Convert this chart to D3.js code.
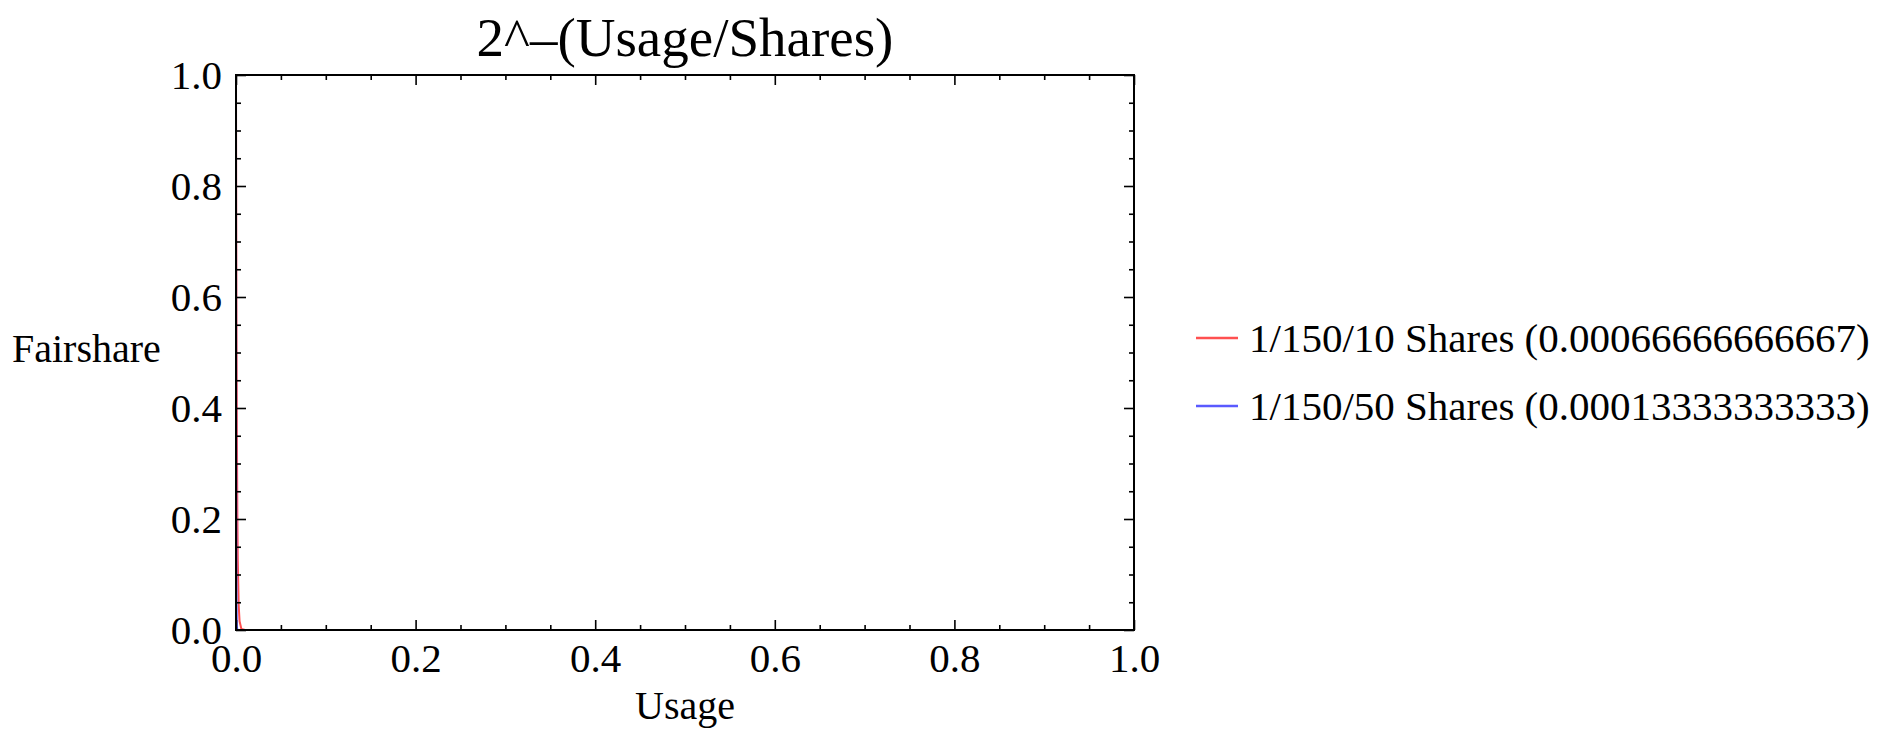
<!DOCTYPE html>
<html>
<head>
<meta charset="utf-8">
<script src="https://cdn.jsdelivr.net/npm/d3@7"></script>
<style>
  html, body { margin: 0; padding: 0; background: #fff; }
  svg text { font-family: "Liberation Serif", "Times New Roman", serif; fill: #000; }
</style>
</head>
<body>
<svg id="chart" width="1899" height="730"></svg>
<script>
// ---- data ----
const titleText = "2^\u2013(Usage/Shares)";
const xLabel = "Usage";
const yLabel = "Fairshare";
const usage = [0, 0.0001, 0.0002, 0.0004, 0.0006, 0.001, 0.0015, 0.002, 0.003, 0.004, 0.006, 0.01, 0.1, 0.5, 1];
const fairshare10 = [1, 0.901, 0.812, 0.660, 0.536, 0.354, 0.210, 0.125, 0.044, 0.0156, 0.002, 0, 0, 0, 0];
const fairshare50 = [1, 0.595, 0.354, 0.125, 0.044, 0.0055, 0.0004, 0, 0, 0, 0, 0, 0, 0, 0];
const seriesNames = ["1/150/10 Shares (0.00066666666667)", "1/150/50 Shares (0.00013333333333)"];
const seriesColors = ["#ff5050", "#5a5aff"];
const majorTicks = [0, 0.2, 0.4, 0.6, 0.8, 1.0];
const minorTicks = [0.05, 0.1, 0.15, 0.25, 0.3, 0.35, 0.45, 0.5, 0.55, 0.65, 0.7, 0.75, 0.85, 0.9, 0.95];

// ---- layout ----
const svg = d3.select("#chart");
const L = 236, R = 1134, T = 75, B = 630;
const x = d3.scaleLinear().domain([0, 1]).range([L, R]);
const y = d3.scaleLinear().domain([0, 1]).range([B, T]);
const fmt = d3.format(".1f");

// clip
svg.append("defs").append("clipPath").attr("id", "clip")
  .append("rect").attr("x", L).attr("y", T).attr("width", R - L).attr("height", B - T);

// curves
const series = [fairshare10, fairshare50];
const line = d3.line().x(d => x(d[0])).y(d => y(d[1]));
series.forEach((vals, i) => {
  svg.append("path")
    .datum(usage.map((u, j) => [u, vals[j]]))
    .attr("clip-path", "url(#clip)")
    .attr("fill", "none")
    .attr("stroke", seriesColors[i])
    .attr("stroke-width", 2)
    .attr("d", line);
});

// axes (ticks inward on all four sides)
function styleAxis(g) {
  g.select(".domain").remove();
  g.selectAll(".tick line").attr("stroke", "#000").attr("stroke-width", 1.6);
  g.selectAll(".tick text").style("font-size", "41px").attr("fill", "#000");
}
svg.append("g").attr("transform", `translate(0,${B})`)
  .call(d3.axisBottom(x).tickValues(majorTicks).tickSize(-10).tickPadding(13).tickFormat(fmt)).call(styleAxis);
svg.append("g").attr("transform", `translate(0,${B})`)
  .call(d3.axisBottom(x).tickValues(minorTicks).tickSize(-5).tickFormat("")).call(styleAxis);
svg.append("g").attr("transform", `translate(0,${T})`)
  .call(d3.axisTop(x).tickValues(majorTicks).tickSize(-10).tickFormat("")).call(styleAxis);
svg.append("g").attr("transform", `translate(0,${T})`)
  .call(d3.axisTop(x).tickValues(minorTicks).tickSize(-5).tickFormat("")).call(styleAxis);
svg.append("g").attr("transform", `translate(${L},0)`)
  .call(d3.axisLeft(y).tickValues(majorTicks).tickSize(-10).tickPadding(14).tickFormat(fmt)).call(styleAxis);
svg.append("g").attr("transform", `translate(${L},0)`)
  .call(d3.axisLeft(y).tickValues(minorTicks).tickSize(-5).tickFormat("")).call(styleAxis);
svg.append("g").attr("transform", `translate(${R},0)`)
  .call(d3.axisRight(y).tickValues(majorTicks).tickSize(-10).tickFormat("")).call(styleAxis);
svg.append("g").attr("transform", `translate(${R},0)`)
  .call(d3.axisRight(y).tickValues(minorTicks).tickSize(-5).tickFormat("")).call(styleAxis);

// frame
svg.append("rect").attr("x", L).attr("y", T).attr("width", R - L).attr("height", B - T)
  .attr("fill", "none").attr("stroke", "#000").attr("stroke-width", 2);

// title & labels
svg.append("text").attr("x", (L + R) / 2).attr("y", 56).attr("text-anchor", "middle")
  .style("font-size", "55px").text(titleText);
svg.append("text").attr("x", (L + R) / 2).attr("y", 719).attr("text-anchor", "middle")
  .style("font-size", "40px").text(xLabel);
svg.append("text").attr("x", 12).attr("y", 362).attr("text-anchor", "start")
  .style("font-size", "40px").text(yLabel);

// legend
const legend = svg.append("g");
seriesNames.forEach((name, i) => {
  const cy = 338 + i * 68;
  legend.append("line").attr("x1", 1196).attr("x2", 1238).attr("y1", cy).attr("y2", cy)
    .attr("stroke", seriesColors[i]).attr("stroke-width", 2.5);
  legend.append("text").attr("x", 1249).attr("y", cy + 14)
    .style("font-size", "41px").text(name);
});
</script>
</body>
</html>
